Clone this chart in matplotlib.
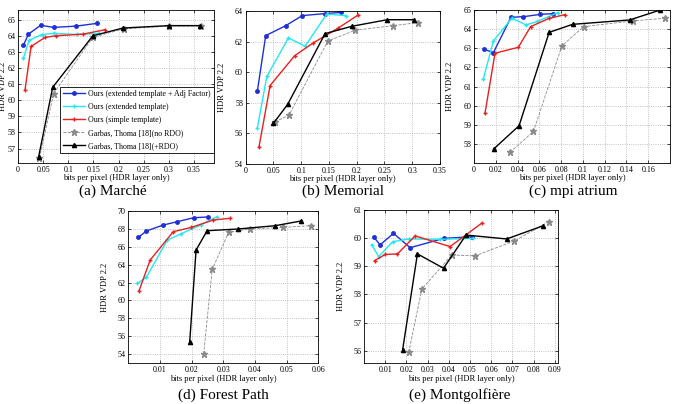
import numpy as np
import matplotlib.pyplot as plt

plt.rcParams['font.family'] = ['Liberation Serif', 'DejaVu Serif']

# (a) Marché
a_blue_x = [0.0107, 0.0207, 0.045, 0.071, 0.116, 0.157]
a_blue_y = [63.4, 64.1, 64.65, 64.52, 64.6, 64.77]
a_cyan_x = [0.0107, 0.022, 0.047, 0.071, 0.117, 0.162]
a_cyan_y = [62.6, 63.71, 64.07, 64.15, 64.08, 64.15]
a_red_x = [0.014, 0.026, 0.054, 0.075, 0.129, 0.174]
a_red_y = [60.64, 63.34, 63.9, 64.0, 64.1, 64.38]
a_gray_x = [0.0427, 0.0707, 0.1487, 0.21, 0.301, 0.364]
a_gray_y = [56.4, 60.4, 63.9, 64.43, 64.6, 64.6]
a_black_x = [0.041, 0.069, 0.149, 0.209, 0.301, 0.362]
a_black_y = [56.48, 60.8, 64.0, 64.48, 64.63, 64.63]

# (b) Memorial
b_blue_x = [0.021, 0.036, 0.072, 0.102, 0.143, 0.172]
b_blue_y = [58.76, 62.39, 63.04, 63.7, 63.83, 63.91]
b_cyan_x = [0.021, 0.038, 0.077, 0.107, 0.146, 0.18]
b_cyan_y = [56.37, 59.72, 62.24, 61.7, 63.8, 63.7]
b_red_x = [0.024, 0.044, 0.088, 0.121, 0.166, 0.2017]
b_red_y = [55.13, 59.13, 61.07, 61.9, 62.87, 63.72]
b_gray_x = [0.053, 0.078, 0.148, 0.197, 0.265, 0.31]
b_gray_y = [56.75, 57.2, 62.04, 62.74, 63.04, 63.24]
b_black_x = [0.0498, 0.0756, 0.143, 0.191, 0.255, 0.303]
b_black_y = [56.65, 57.9, 62.52, 63.0, 63.43, 63.43]

# (c) mpi atrium
c_blue_x = [0.0092, 0.0178, 0.034, 0.0454, 0.0607, 0.0724]
c_blue_y = [62.95, 62.77, 64.62, 64.65, 64.77, 64.81]
c_cyan_x = [0.0086, 0.0178, 0.0347, 0.0478, 0.0583, 0.0767]
c_cyan_y = [61.4, 63.38, 64.57, 64.22, 64.4, 64.86]
c_red_x = [0.0101, 0.0193, 0.0407, 0.052, 0.0689, 0.0837]
c_red_y = [59.6, 62.74, 63.05, 64.13, 64.56, 64.76]
c_gray_x = [0.0331, 0.0546, 0.0807, 0.1006, 0.146, 0.1757]
c_gray_y = [57.56, 58.65, 63.12, 64.13, 64.43, 64.57]
c_black_x = [0.0184, 0.0414, 0.069, 0.0905, 0.143, 0.1711]
c_black_y = [57.75, 58.95, 63.83, 64.25, 64.48, 65.0]

# (d) Forest Path
d_blue_x = [0.0032, 0.0057, 0.011, 0.0155, 0.0207, 0.0251]
d_blue_y = [67.03, 67.74, 68.4, 68.78, 69.22, 69.3]
d_cyan_x = [0.0029, 0.0057, 0.0123, 0.0165, 0.0228, 0.028]
d_cyan_y = [61.9, 62.58, 66.73, 67.4, 68.4, 69.33]
d_red_x = [0.0034, 0.0069, 0.0142, 0.0199, 0.0268, 0.032]
d_red_y = [61.09, 64.5, 67.66, 68.14, 68.96, 69.15]
d_gray_x = [0.0238, 0.0265, 0.0317, 0.0383, 0.049, 0.0576]
d_gray_y = [54.04, 63.47, 67.59, 67.96, 68.14, 68.33]
d_black_x = [0.0194, 0.0214, 0.0249, 0.0346, 0.0464, 0.0545]
d_black_y = [55.41, 65.62, 67.77, 67.96, 68.33, 68.85]

# (e) Montgolfière
e_blue_x = [0.0045, 0.0076, 0.0139, 0.0218, 0.0375, 0.0508]
e_blue_y = [60.05, 59.76, 60.17, 59.66, 59.99, 60.05]
e_cyan_x = [0.0037, 0.0069, 0.0135, 0.021, 0.0359, 0.0516]
e_cyan_y = [59.76, 59.34, 59.87, 59.97, 59.96, 59.99]
e_red_x = [0.005, 0.01, 0.0158, 0.0241, 0.0406, 0.0555]
e_red_y = [59.2, 59.42, 59.44, 60.08, 59.7, 60.53]
e_gray_x = [0.0211, 0.0273, 0.0414, 0.0524, 0.0709, 0.0873]
e_gray_y = [55.94, 58.19, 59.4, 59.37, 59.9, 60.59]
e_black_x = [0.0182, 0.0252, 0.0375, 0.0481, 0.0673, 0.0845]
e_black_y = [56.02, 59.44, 58.93, 60.11, 59.97, 60.44]

labels = ['Ours (extended template + Adj Factor)', 'Ours (extended template)',
          'Ours (simple template)', 'Garbas, Thoma [18](no RDO)',
          'Garbas, Thoma [18](+RDO)']

W, H = 675, 404
fig = plt.figure(figsize=(W / 100, H / 100), dpi=100)


def add_ax(l, r, t, b):
    return fig.add_axes([l / W, 1 - b / H, (r - l) / W, (b - t) / H])


def draw(ax, d, xlim, ylim, xticks, yticks, ylab_x):
    bx, by, cx, cy, rx, ry, gx, gy, kx, ky = d
    ax.plot(bx, by, '-o', color='#1f2fd6', lw=1.0, ms=2.5, mfc='#1f2fd6', label=labels[0])
    ax.plot(cx, cy, '-+', color='#22e8f0', lw=1.0, ms=3.5, label=labels[1])
    ax.plot(rx, ry, '-+', color='#e82020', lw=1.0, ms=3.5, label=labels[2])
    ax.plot(gx, gy, '--', color='#8a8a8a', lw=0.6, marker='*', ms=4.5, label=labels[3])
    ax.plot(kx, ky, '-^', color='black', lw=1.0, ms=3, label=labels[4])
    ax.set_xlim(*xlim)
    ax.set_ylim(*ylim)
    ax.set_xticks(xticks)
    ax.set_xticklabels(['%g' % round(v, 3) for v in xticks])
    ax.set_yticks(yticks)
    ax.grid(True, ls=':', lw=0.6, color='#b0b0b0')
    ax.tick_params(direction='in', labelsize=5.8, length=2, width=0.5,
                   top=True, right=True, pad=2)
    for s in ax.spines.values():
        s.set_linewidth(0.6)
    ax.set_xlabel('bits per pixel (HDR layer only)', fontsize=6, labelpad=0.5)
    ax.set_ylabel('HDR VDP 2.2', fontsize=6)
    ax.yaxis.set_label_coords(ylab_x, 0.5)


ax_a = add_ax(18, 214, 10, 163)
draw(ax_a, [a_blue_x, a_blue_y, a_cyan_x, a_cyan_y, a_red_x, a_red_y,
            a_gray_x, a_gray_y, a_black_x, a_black_y],
     (0, 0.39), (56.1, 65.6), np.arange(0, 0.36, 0.05), range(57, 66), -0.056)
leg = ax_a.legend(loc='lower right', bbox_to_anchor=(1.0, 0.065), fontsize=5.7,
                  frameon=True, fancybox=False, borderaxespad=0.0,
                  handlelength=2.8, labelspacing=0.62, borderpad=0.4,
                  handletextpad=0.4)
leg.get_frame().set_edgecolor('black')
leg.get_frame().set_linewidth(0.6)
leg.get_frame().set_alpha(1)

ax_b = add_ax(245.7, 440, 11, 164)
draw(ax_b, [b_blue_x, b_blue_y, b_cyan_x, b_cyan_y, b_red_x, b_red_y,
            b_gray_x, b_gray_y, b_black_x, b_black_y],
     (0, 0.35), (54, 64), np.arange(0, 0.36, 0.05), range(54, 65, 2), -0.1)

ax_c = add_ax(474, 670, 10, 163)
draw(ax_c, [c_blue_x, c_blue_y, c_cyan_x, c_cyan_y, c_red_x, c_red_y,
            c_gray_x, c_gray_y, c_black_x, c_black_y],
     (0, 0.18), (57, 65), np.arange(0, 0.17, 0.02), range(58, 66), -0.1)

ax_d = add_ax(128.3, 318.3, 210.7, 363.3)
draw(ax_d, [d_blue_x, d_blue_y, d_cyan_x, d_cyan_y, d_red_x, d_red_y,
            d_gray_x, d_gray_y, d_black_x, d_black_y],
     (0, 0.06), (53, 70), np.arange(0.01, 0.061, 0.01), range(54, 71, 2), -0.1)

ax_e = add_ax(364, 558, 210, 363.3)
draw(ax_e, [e_blue_x, e_blue_y, e_cyan_x, e_cyan_y, e_red_x, e_red_y,
            e_gray_x, e_gray_y, e_black_x, e_black_y],
     (0, 0.0915), (55.55, 61), np.arange(0.01, 0.091, 0.01), range(56, 62), -0.1)

captions = [('(a) Marché', 113, 191), ('(b) Memorial', 343, 191),
            ('(c) mpi atrium', 573, 191), ('(d) Forest Path', 223, 395),
            ('(e) Montgolfière', 460, 395)]
for txt, x, y in captions:
    fig.text(x / W, 1 - y / H, txt, ha='center', va='center', fontsize=11)

fig.savefig('out.png', dpi=100)
